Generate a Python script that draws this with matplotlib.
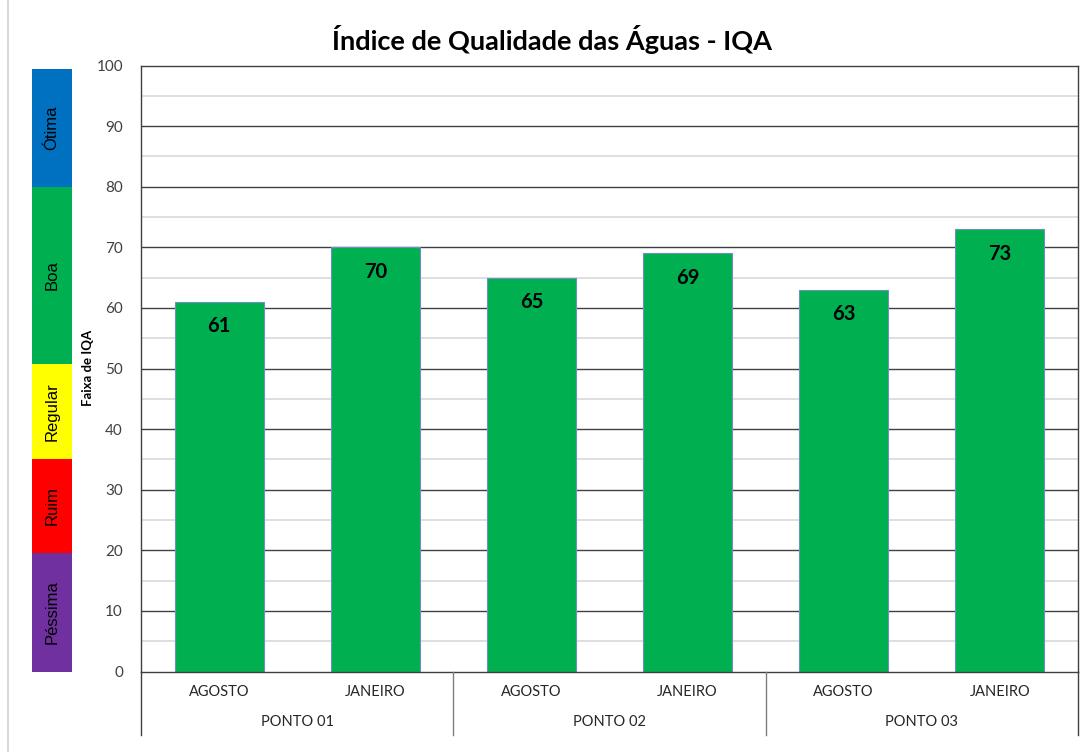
import matplotlib
matplotlib.use("Agg")
import matplotlib.pyplot as plt
from matplotlib.lines import Line2D

# ---- data ----
pontos = ["PONTO 01", "PONTO 02", "PONTO 03"]
meses = ["AGOSTO", "JANEIRO"]
valores = [61, 70, 65, 69, 63, 73]
faixas = ["Péssima", "Ruim", "Regular", "Boa", "Ótima"]
faixa_lim = [0, 19.6, 35.1, 50.8, 80, 99.5]
faixa_cores = ["#7030A0", "#FF0000", "#FFFF00", "#00B050", "#0070C0"]

W, H = 1091, 752
fig = plt.figure(figsize=(W / 100, H / 100), dpi=100)
FONT = "Lato"

def fx(px):
    return px / W

def fy(py):
    return 1 - py / H

L, R, T, B = 141, 1078, 65.5, 671.5
ax = fig.add_axes([fx(L), fy(B), fx(R) - fx(L), fy(T) - fy(B)])
n = len(valores)
xs = list(range(n))
ax.set_xlim(-0.5, n - 0.5)
ax.set_ylim(0, 100)

# gridlines
for v in range(5, 100, 10):
    ax.axhline(v, color="#d9d9d9", lw=1.2, zorder=0)
for v in range(10, 100, 10):
    ax.axhline(v, color="#404040", lw=1.0, zorder=0)

ax.bar(xs, valores, width=0.57, color="#00B050", edgecolor="#6f8fc0", linewidth=0.8, zorder=2)
for x, v in zip(xs, valores):
    ax.text(x, v - 2.4, f"{v}", ha="center", va="top", fontsize=14.5, fontweight="bold",
            family=FONT, color="black", zorder=3)

ax.set_yticks(range(0, 101, 10))
ax.set_yticklabels([str(v) for v in range(0, 101, 10)], family=FONT, fontsize=11, color="#404040")
ax.tick_params(axis="y", length=0, pad=13)
ax.set_xticks([])
for s in ax.spines.values():
    s.set_color("#404040")
    s.set_linewidth(1.0)

# category labels
for i, m in enumerate(meses * len(pontos)):
    fig.text(fx(L + (R - L) * (i + 0.5) / n), fy(692), m, ha="center", va="center",
             family=FONT, fontsize=10.5, color="#262626")
for j, p in enumerate(pontos):
    fig.text(fx(L + (R - L) * (2 * j + 1) / n), fy(722), p, ha="center", va="center",
             family=FONT, fontsize=10.5, color="#262626")
for k in range(len(pontos) + 1):
    xp = L + (R - L) * 2 * k / n
    col = "#404040" if k in (0, len(pontos)) else "#7f7f7f"
    fig.add_artist(Line2D([fx(xp), fx(xp)], [fy(B), fy(735)], color=col, lw=1.0))

# title
fig.text(fx(552), fy(40), "Índice de Qualidade das Águas - IQA", ha="center", va="center",
         family=FONT, fontsize=19.5, fontweight="bold", color="black")

# y label
fig.text(fx(88), fy(368), "Faixa de IQA", rotation=90, ha="center", va="center",
         family=FONT, fontsize=9.5, fontweight="bold", color="black")

# band
bax = fig.add_axes([fx(32), fy(B), fx(72) - fx(32), fy(T) - fy(B)])
bax.set_xlim(0, 1)
bax.set_ylim(0, 100)
for lo, hi, c, nm in zip(faixa_lim[:-1], faixa_lim[1:], faixa_cores, faixas):
    bax.bar(0.5, hi - lo, bottom=lo, width=1.0, color=c, edgecolor="none")
    bax.text(0.5, (lo + hi) / 2, nm, rotation=90, ha="center", va="center",
             family="Liberation Sans", fontsize=12, color="black")
bax.axis("off")

# faint page border
fig.add_artist(Line2D([fx(8), fx(8)], [0, 1], color="#d9d9d9", lw=1.5))

fig.savefig("out.png", dpi=100)
